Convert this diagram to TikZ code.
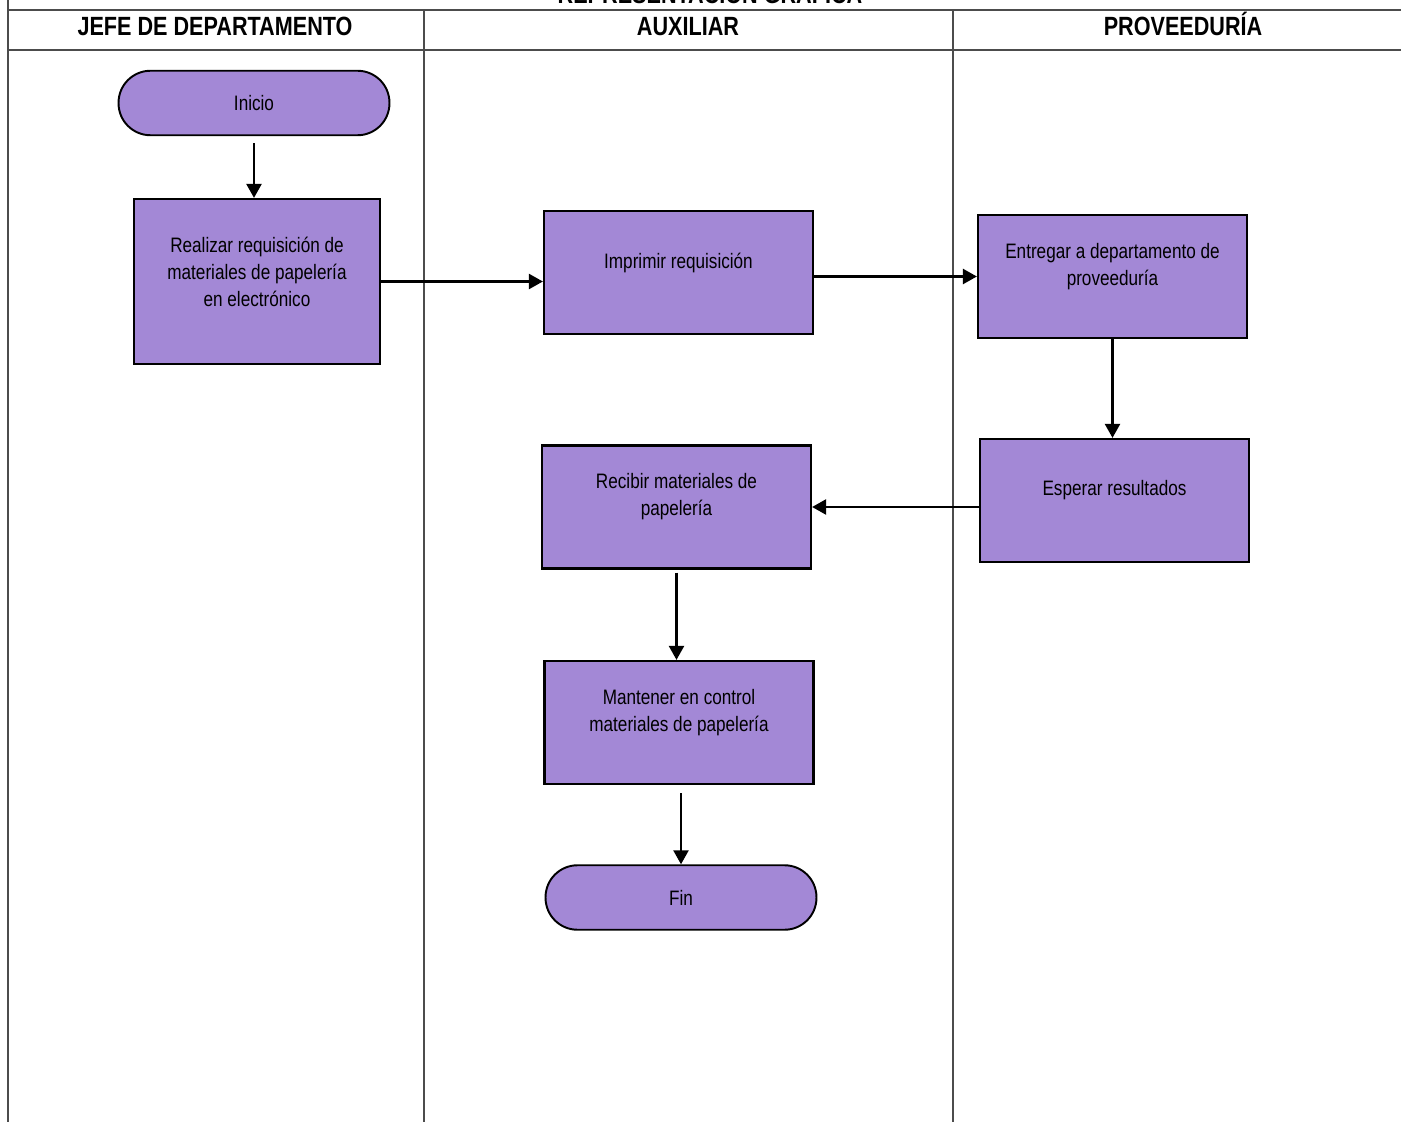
\documentclass[tikz,border=0pt]{standalone}
\usepackage{fontspec}
\setmainfont[FakeStretch=0.82]{Liberation Sans}
\usetikzlibrary{arrows.meta}
\definecolor{lila}{RGB}{163,136,214}

\begin{document}
\begin{tikzpicture}[
    x=0.02cm, y=-0.02cm,
    carril/.style={draw=black!70, line width=0.7pt},
    titulo/.style={anchor=base, font=\fontsize{15}{18}\selectfont\bfseries},
    paso/.style={draw, fill=lila, line width=1.3pt, minimum width=5.38cm, minimum height=2.46cm},
    terminal/.style={draw, fill=lila, line width=1.1pt, rounded corners=0.64cm, minimum width=5.42cm, minimum height=1.29cm, font=\fontsize{11.9}{15.4}\selectfont},
    texto/.style={align=center, font=\fontsize{11.9}{15.4}\selectfont, yshift=0.2cm},
    flujo/.style={-{Triangle[length=0.28cm, width=0.3cm]}, line width=1.4pt}
]
    \useasboundingbox (0,0) rectangle (1401,1122);

    % carriles
    \draw[carril] (8,0) -- (8,1122);
    \draw[carril] (8,10) -- (1401,10);
    \draw[carril] (8,50) -- (1401,50);
    \draw[carril] (424,10) -- (424,1122);
    \draw[carril] (953,10) -- (953,1122);

    \node[titulo] (rep) at (710,4) {REPRESENTACIÓN GRÁFICA};
    \node[titulo] (jefe) at (215,36) {JEFE DE DEPARTAMENTO};
    \node[titulo] (aux) at (688,36) {AUXILIAR};
    \node[titulo] (prov) at (1183,36) {PROVEEDURÍA};

    % pasos
    \node[terminal] (inicio) at (254,103) {Inicio};
    \node[paso, minimum width=4.92cm, minimum height=3.3cm,
          label={[texto]center:Realizar requisición de\\materiales de papelería\\en electrónico}] (realizar) at (257,281.5) {};
    \node[paso, label={[texto]center:Imprimir requisición}] (imprimir) at (678.5,272.5) {};
    \node[paso, label={[texto]center:Entregar a departamento de\\proveeduría}] (entregar) at (1112.5,276.5) {};
    \node[paso, label={[texto]center:Esperar resultados}] (esperar) at (1114.5,500.5) {};
    \node[paso, label={[texto]center:Recibir materiales de\\papelería}] (recibir) at (676.5,507) {};
    \node[paso, label={[texto]center:Mantener en control\\materiales de papelería}] (mantener) at (679,722.5) {};
    \node[terminal] (fin) at (681,897.5) {Fin};

    % flechas
    \draw[flujo, shorten <=0.14cm] (inicio.south) -- (inicio.south |- realizar.north);
    \draw[flujo] (realizar.east) -- (realizar.east -| imprimir.west);
    \draw[flujo] (imprimir.east |- entregar.west) -- (entregar.west);
    \draw[flujo] (entregar.south) -- (entregar.south |- esperar.north);
    \draw[flujo] (esperar.west |- recibir.east) -- (recibir.east);
    \draw[flujo, shorten <=0.06cm] (recibir.south) -- (recibir.south |- mantener.north);
    \draw[flujo, shorten <=0.16cm] (fin.north |- mantener.south) -- (fin.north);
\end{tikzpicture}
\end{document}
